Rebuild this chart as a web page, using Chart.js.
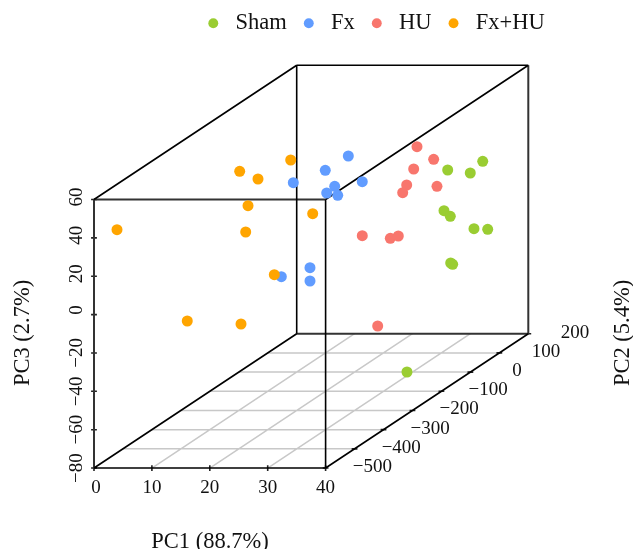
<!DOCTYPE html>
<html>
<head>
<meta charset="utf-8">
<style>html,body{margin:0;padding:0;background:#fff}#w{width:633px;height:549px;position:relative}</style>
<script src="https://cdn.jsdelivr.net/npm/chart.js@4"></script>
</head>
<body>
<div id="w"><canvas id="c"></canvas></div>
<script>
const groupNames = ["Sham", "Fx", "HU", "Fx+HU"];
const groupColors = ["#9ACD32", "#619CFF", "#F8766D", "#FFA500"];

const shamPC1 = [31.08, 34.98, 37.13, 30.44, 31.53, 35.62, 37.99, 31.60, 31.94, 34.05];
const shamPC2 = [100, 100, 100, 100, 100, 100, 100, 100, 100, -100];
const shamPC3 = [15.37, 13.81, 19.91, -5.85, -8.77, -15.23, -15.55, -33.12, -33.80, -69.94];

const fxPC1 = [19.42, 28.92, 24.94, 26.57, 25.19, 27.09, 31.33, 17.35, 22.30, 22.30];
const fxPC2 = [-200, -200, -200, -200, -200, -200, -200, -200, -200, -200];
const fxPC3 = [38.76, 52.68, 45.22, 36.88, 33.39, 32.19, 39.28, -10.25, -5.56, -12.49];

const huPC1 = [35.78, 38.66, 35.21, 34.00, 33.31, 39.23, 26.33, 31.17, 32.55, 28.99];
const huPC2 = [-100, -100, -100, -100, -100, -100, -100, -100, -100, -100];
const huPC3 = [47.53, 40.96, 35.90, 27.56, 23.55, 26.88, 1.13, -0.23, 0.97, -45.95];

const fxhuPC1 = [15.16, 18.32, 21.47, 21.60, 1.47, 21.20, 30.27, 23.64, 13.61, 20.39];
const fxhuPC2 = [-300, -300, -250, -400, -450, -400, -350, -350, -450, -400];
const fxhuPC3 = [54.71, 50.69, 55.59, 46.77, 39.27, 33.06, 37.60, 5.80, -8.34, -14.91];

const pc1Ticks = [0, 10, 20, 30, 40];
const pc2Ticks = [-500, -400, -300, -200, -100, 0, 100, 200];
const pc3Ticks = [60, 40, 20, 0, -20, -40, -60, -80];
const axisTitles = ["PC1 (88.7%)", "PC2 (5.4%)", "PC3 (2.7%)"];

// oblique projection of the 3D box onto the page
const view = {left: 94, base: 314.6, k1: 5.79, k2x: 0.28957, k2y: 0.19186, k3: 1.918};
const P = (a, b, c) => ({
  x: view.left + view.k1 * a + view.k2x * (b + 500),
  y: view.base - view.k3 * c - view.k2y * (b + 500)
});
const GAP = {x: NaN, y: NaN};
const seg = (...pairs) => pairs.flatMap(p => [P(...p[0]), P(...p[1]), GAP]);
const A0 = 0, A1 = 40, B0 = -500, B1 = 200, C0 = -80, C1 = 60;

const cloud = (a, b, c) => a.map((v, i) => P(v, b[i], c[i]));
const series = [[shamPC1, shamPC2, shamPC3], [fxPC1, fxPC2, fxPC3], [huPC1, huPC2, huPC3], [fxhuPC1, fxhuPC2, fxhuPC3]];

const pointSets = series.map((s, i) => ({
  label: groupNames[i],
  data: cloud(...s),
  backgroundColor: groupColors[i],
  borderColor: groupColors[i],
  borderWidth: 0,
  pointRadius: 5.5,
  pointStyle: 'circle',
  showLine: false,
  clip: false,
  order: 4 - i
}));

const lineSet = (label, data, color, width, order) => ({
  label, data, borderColor: color, backgroundColor: color, borderWidth: width,
  pointRadius: 0, showLine: true, spanGaps: false, clip: false, order
});

const gridLines = [
  ...pc2Ticks.slice(1, -1).flatMap(b => seg([[A0, b, C0], [A1, b, C0]])),
  ...pc1Ticks.slice(1, -1).flatMap(a => seg([[a, B0, C0], [a, B1, C0]]))
];
const thinFrame = seg(
  [[A0, B0, C1], [A0, B1, C1]], [[A1, B0, C1], [A1, B1, C1]],
  [[A0, B0, C0], [A0, B1, C0]], [[A1, B0, C0], [A1, B1, C0]],
  [[A0, B1, C0], [A0, B1, C1]], [[A1, B0, C0], [A1, B0, C1]],
  [[A0, B1, C1], [A1, B1, C1]], [[A0, B0, C0], [A1, B0, C0]]
);
const heavyFrame = seg(
  [[A0, B0, C0], [A0, B0, C1]], [[A0, B0, C1], [A1, B0, C1]],
  [[A0, B1, C0], [A1, B1, C0]], [[A1, B1, C0], [A1, B1, C1]]
);
const tickMarks = [
  ...pc1Ticks.flatMap(a => seg([[a, B0, C0 - 1.5], [a, B0, C0 + 1.5]])),
  ...pc2Ticks.flatMap(b => seg([[A1 - 0.5, b, C0], [A1 + 0.5, b, C0]])),
  ...pc3Ticks.flatMap(c => seg([[A0 - 0.5, B0, c], [A0 + 0.5, B0, c]]))
];

const fmt = v => String(v).replace('-', '\u2212');
const SERIF = '"Liberation Serif","Times New Roman",serif';

const boxText = {
  id: 'boxText',
  afterDatasetsDraw(chart) {
    const {ctx, scales: {x, y}} = chart;
    const put = (txt, px, py, size, rot) => {
      ctx.save();
      ctx.translate(px, py);
      if (rot) ctx.rotate(-Math.PI / 2);
      ctx.font = size + 'px ' + SERIF;
      ctx.fillStyle = '#111111';
      ctx.textAlign = 'center';
      ctx.textBaseline = 'middle';
      ctx.fillText(txt, 0, 0);
      ctx.restore();
    };
    pc1Ticks.forEach(a => {
      const p = P(a, B0, C0);
      put(fmt(a), x.getPixelForValue(p.x) + (a === 0 ? 2 : 0), y.getPixelForValue(p.y) + 19.5, 19);
    });
    pc2Ticks.forEach(b => {
      const p = P(A1, b, C0);
      put(fmt(b), x.getPixelForValue(p.x) + 46.7, y.getPixelForValue(p.y) - 1, 19);
    });
    pc3Ticks.forEach(c => {
      const p = P(A0, B0, c);
      const shift = c < 0 ? 0 : (c === 0 ? -4.6 : -2.6);
      put(fmt(c), x.getPixelForValue(p.x) - 16.5, y.getPixelForValue(p.y) + shift, 19, true);
    });
    put(axisTitles[0], 210, 542, 22.5);
    put(axisTitles[1], 623.5, 333, 22.5, true);
    put(axisTitles[2], 23.5, 333, 22.5, true);
  }
};

const shiftLegend = {
  id: 'shiftLegend',
  afterLayout(chart) { chart.legend.left = 114; chart.legend.top = 1; }
};

const chart = new Chart(document.getElementById('c'), {
  type: 'scatter',
  data: {
    datasets: [
      ...pointSets,
      lineSet('grid', gridLines, '#c8c8c8', 1.5, 12),
      lineSet('frame', thinFrame, '#000000', 1.6, 11),
      lineSet('frame heavy', heavyFrame, '#333333', 2, 11),
      lineSet('ticks', tickMarks, '#222222', 1.6, 11)
    ]
  },
  plugins: [boxText, shiftLegend],
  options: {
    responsive: true,
    maintainAspectRatio: false,
    animation: false,
    layout: {padding: 0, autoPadding: false},
    scales: {
      x: {type: 'linear', display: false, min: 0, max: 633},
      y: {type: 'linear', display: false, min: 0, max: 549, reverse: true}
    },
    plugins: {
      tooltip: {enabled: false},
      legend: {
        position: 'top',
        align: 'center',
        labels: {
          filter: item => item.datasetIndex < 4,
          sort: (a, b) => a.datasetIndex - b.datasetIndex,
          usePointStyle: true,
          boxWidth: 22,
          boxHeight: 7,
          padding: 11,
          color: '#111111',
          font: {family: SERIF, size: 22.5}
        }
      }
    }
  }
});
chart.options.scales.y.min = chart.chartArea.top;
chart.update('none');
</script>
</body>
</html>
